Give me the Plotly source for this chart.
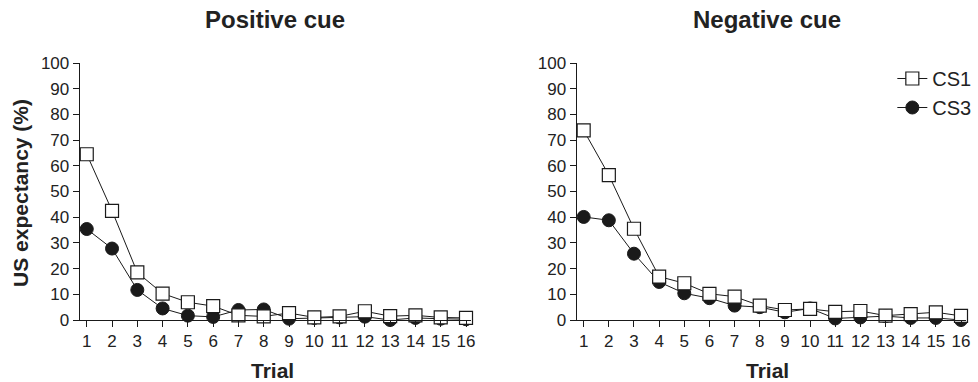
import plotly.graph_objects as go

trials = list(range(1, 17))
tick_labels = [str(t) for t in trials]

pos_cs1 = [64.5, 42.5, 18.5, 10.3, 6.9, 5.4, 1.8, 1.4, 2.7, 1.0, 1.4, 3.4, 1.5, 1.8, 1.0, 0.8]
pos_cs3 = [35.4, 27.8, 11.7, 4.5, 1.7, 1.2, 3.9, 4.1, 0.5, 0.8, 1.0, 1.3, 0.0, 0.8, 0.5, 0.3]
neg_cs1 = [73.8, 56.4, 35.5, 16.9, 14.3, 10.2, 9.1, 5.6, 3.9, 4.3, 3.2, 3.5, 1.7, 2.3, 3.0, 1.6]
neg_cs3 = [40.1, 38.8, 25.8, 14.8, 10.4, 8.5, 5.6, 5.0, 3.0, 4.5, 0.6, 1.0, 1.5, 0.8, 0.8, 0.0]

FONT = "Liberation Sans, Arial, sans-serif"
TXT = "#222222"
W, H = 978, 382
TOP, BOT = 63, 320

fig = go.Figure()

def add_pair(cs1, cs3, xa, ya, show):
    fig.add_trace(go.Scatter(
        x=trials, y=cs3, xaxis=xa, yaxis=ya, name="CS3", mode="lines+markers",
        line=dict(color="#1a1a1a", width=1),
        marker=dict(symbol="circle", size=13, color="#1a1a1a", line=dict(color="#1a1a1a", width=1)),
        showlegend=show, legendrank=2, cliponaxis=False))
    fig.add_trace(go.Scatter(
        x=trials, y=cs1, xaxis=xa, yaxis=ya, name="CS1", mode="lines+markers",
        line=dict(color="#1a1a1a", width=1),
        marker=dict(symbol="square", size=13, color="white", line=dict(color="#1a1a1a", width=1.2)),
        showlegend=show, legendrank=1, cliponaxis=False))

add_pair(pos_cs1, pos_cs3, "x", "y", False)
add_pair(neg_cs1, neg_cs3, "x2", "y2", True)

xcommon = dict(range=[0.72, 16.2], tickmode="array", tickvals=trials, ticktext=tick_labels,
               ticks="outside", ticklen=6, tickwidth=1, tickcolor="#1a1a1a",
               showline=True, linecolor="#1a1a1a", linewidth=1, showgrid=False, zeroline=False,
               tickfont=dict(family=FONT, size=17, color=TXT))
ycommon = dict(range=[0, 100], tickmode="array", tickvals=list(range(0, 101, 10)),
               ticks="outside", ticklen=6, tickwidth=1, tickcolor="#1a1a1a",
               showline=True, linecolor="#1a1a1a", linewidth=1, showgrid=False, zeroline=False,
               tickfont=dict(family=FONT, size=17, color=TXT))

plot_h = BOT - TOP
def py(px):
    return 1 - (px - TOP) / plot_h

fig.update_layout(
    width=W, height=H,
    margin=dict(l=0, r=0, t=TOP, b=H - BOT),
    paper_bgcolor="white", plot_bgcolor="white",
    xaxis=dict(domain=[80 / W, 473 / W], anchor="y", **xcommon),
    yaxis=dict(domain=[0, 1], anchor="x", **ycommon),
    xaxis2=dict(domain=[579 / W, 970 / W], anchor="y2", **xcommon),
    yaxis2=dict(domain=[0, 1], anchor="x2", **ycommon),
    legend=dict(x=896 / W, y=py(59), xanchor="left", yanchor="top", bgcolor="rgba(0,0,0,0)",
                font=dict(family=FONT, size=20, color=TXT), itemwidth=30,
                tracegroupgap=0),
    font=dict(family=FONT),
)

def ann(text, x, y, size, angle=0):
    fig.add_annotation(text=text, x=x / W, y=py(y), xref="paper", yref="paper",
                       xanchor="center", yanchor="middle", showarrow=False, textangle=angle,
                       font=dict(family=FONT, size=size, color=TXT))

ann("<b>Positive cue</b>", 276, 20, 24)
ann("<b>Negative cue</b>", 770, 20, 24)
ann("<b>Trial</b>", 274, 370, 21)
ann("<b>Trial</b>", 771, 370, 21)
ann("<b>US expectancy (%)</b>", 20, 193, 21, -90)

fig.write_html("out.html", config={"displayModeBar": False},
               post_script="document.body.style.margin='0';")
